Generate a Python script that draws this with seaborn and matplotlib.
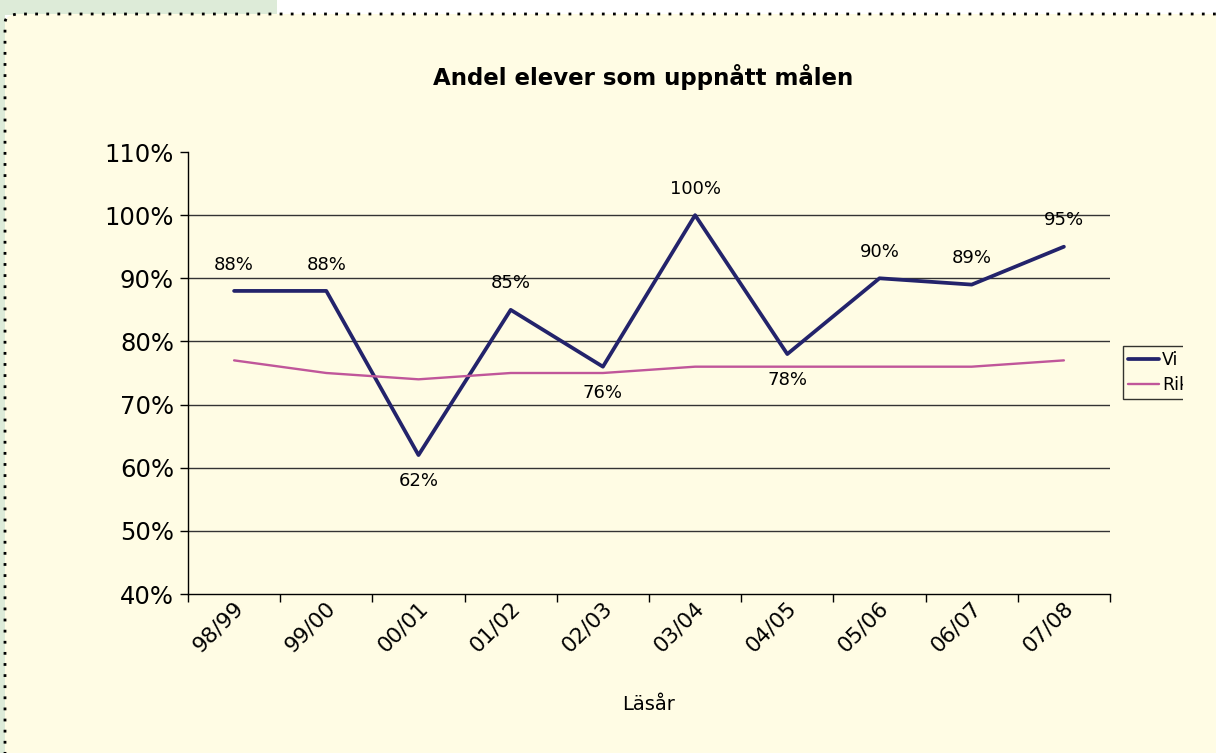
import numpy as np
import pandas as pd
import seaborn as sns
import matplotlib.pyplot as plt
import matplotlib.transforms as mtransforms
from matplotlib.patches import Rectangle, FancyBboxPatch
from matplotlib.lines import Line2D

# Chart values
years = ['98/99', '99/00', '00/01', '01/02', '02/03', '03/04', '04/05', '05/06', '06/07', '07/08']
vi = [0.88, 0.88, 0.62, 0.85, 0.76, 1.00, 0.78, 0.90, 0.89, 0.95]
riket = [0.77, 0.75, 0.74, 0.75, 0.75, 0.76, 0.76, 0.76, 0.76, 0.77]
label_above = [True, True, False, True, False, True, False, True, True, True]
yticks = [0.4, 0.5, 0.6, 0.7, 0.8, 0.9, 1.0, 1.1]

bg = '#FFFCE4'
navy = '#23236B'
pink = '#C0569A'

df = pd.DataFrame({
    'Läsår': years * 2,
    'Andel': vi + riket,
    'Serie': ['Vi'] * len(years) + ['Riket'] * len(years),
})

sns.set_style('white')
plt.rcParams['font.family'] = ['DejaVu Sans']
plt.rcParams.update({'text.color': 'black', 'axes.labelcolor': 'black',
                     'xtick.color': 'black', 'ytick.color': 'black'})

W, H = 1216, 753
fig = plt.figure(figsize=(W / 100, H / 100), dpi=100)
fig.patch.set_facecolor('white')

# background pieces: green strips, cream chart area with dotted border
fig.patches.append(Rectangle((0, 1 - 15 / H), 277 / W, 15 / H, transform=fig.transFigure,
                             facecolor='#DDEBD8', edgecolor='none', zorder=-3))
fig.patches.append(Rectangle((0, 0), 5 / W, 1, transform=fig.transFigure,
                             facecolor='#DDEBD8', edgecolor='none', zorder=-3))
fig.patches.append(FancyBboxPatch((5 / W, -0.1), 1.1, 1 - 14 / H + 0.1,
                                  boxstyle='round,pad=0,rounding_size=0.012',
                                  transform=fig.transFigure, facecolor=bg, edgecolor='black',
                                  linestyle=(0, (1, 3)), linewidth=2.0, zorder=-2))

ax = fig.add_axes([188 / W, 1 - 594 / H, (1110 - 188) / W, (594 - 152) / H])
ax.set_facecolor(bg)
ax.patch.set_alpha(0)

sns.lineplot(data=df, x='Läsår', y='Andel', hue='Serie', palette={'Vi': navy, 'Riket': pink},
             sort=False, ax=ax, legend=False)
lines = ax.get_lines()
lines[0].set_linewidth(2.7)
lines[1].set_linewidth(1.7)

ax.set_xlim(-0.5, len(years) - 0.5)
ax.set_ylim(0.4, 1.1)

ax.set_yticks(yticks)
ax.set_yticklabels([f'{int(round(v * 100))}%' for v in yticks], fontsize=17.5)
ax.yaxis.grid(True, color='#333333', linewidth=1.0)
ax.yaxis.get_gridlines()[-1].set_visible(False)
ax.yaxis.get_gridlines()[0].set_visible(False)
ax.tick_params(axis='y', length=6, width=1, color='black', pad=4, left=True)

ax.set_xticks(range(len(years)))
ax.set_xticklabels(years, rotation=45, ha='right', va='center', rotation_mode='anchor', fontsize=15.5)
ax.tick_params(axis='x', which='major', length=0, pad=8)
shift = mtransforms.ScaledTranslation(6 / 100, 0, fig.dpi_scale_trans)
for lab in ax.get_xticklabels():
    lab.set_transform(lab.get_transform() + shift)
ax.set_xticks(np.arange(-0.5, len(years), 1), minor=True)
ax.tick_params(axis='x', which='minor', length=6, width=1, color='black', bottom=True)

for s in ['top', 'right']:
    ax.spines[s].set_visible(False)
for s in ['left', 'bottom']:
    ax.spines[s].set_color('black')
    ax.spines[s].set_linewidth(1.0)

ax.set_xlabel('Läsår', fontsize=14, labelpad=28)
ax.set_ylabel('')

for i, (v, up) in enumerate(zip(vi, label_above)):
    ax.annotate(f'{int(round(v * 100))}%', (i, v), xytext=(0, 19 if up else -19),
                textcoords='offset points', ha='center', va='center', fontsize=13)

fig.text(643 / W, 1 - 77 / H, 'Andel elever som uppnått målen', ha='center', va='center',
         fontsize=16.5, fontweight='bold')

# legend, clipped at the right like the original
handles = [Line2D([], [], color=navy, linewidth=2.7), Line2D([], [], color=pink, linewidth=1.7)]
leg = ax.legend(handles, ['Vi', 'Riket'], loc='upper left', bbox_to_anchor=(1123 / W, 1 - 346 / H),
                bbox_transform=fig.transFigure, frameon=True, fancybox=False, fontsize=12.5,
                handlelength=1.75, handletextpad=0.2, borderpad=0.3, labelspacing=0.4,
                borderaxespad=0)
leg.get_frame().set_edgecolor('black')
leg.get_frame().set_facecolor(bg)
leg.get_frame().set_linewidth(1.0)
fig.patches.append(Rectangle((1183 / W, 1 - 410 / H), 40 / W, 80 / H, transform=fig.transFigure,
                             facecolor=bg, edgecolor='none', zorder=5))

fig.savefig('out.png', dpi=100, facecolor=fig.get_facecolor())
